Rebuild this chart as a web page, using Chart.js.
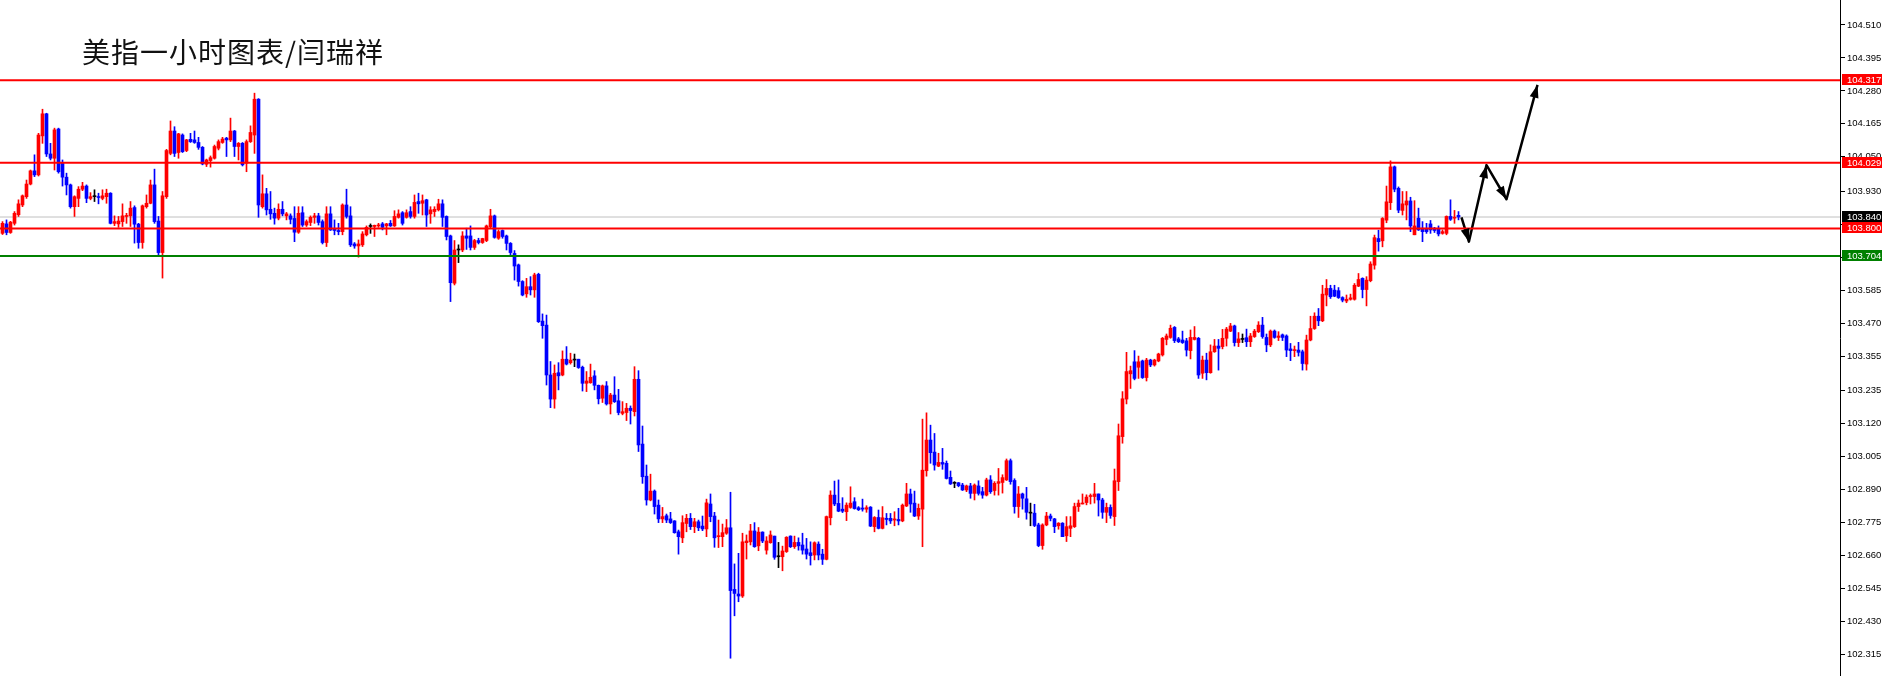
<!DOCTYPE html>
<html>
<head>
<meta charset="utf-8">
<title>美指一小时图表</title>
<script src="https://cdn.jsdelivr.net/npm/chart.js@4.4.1/dist/chart.umd.min.js"></script>
<style>
  html, body { margin: 0; padding: 0; background: #fff; }
  #wrap { position: relative; width: 1882px; height: 676px; }
  #title {
    position: absolute; left: 82px; top: 37px;
    font-family: "Noto Sans CJK SC", sans-serif; font-size: 28px; line-height: 28px;
    letter-spacing: 1px; color: #111; white-space: nowrap;
  }
</style>
</head>
<body>
<div id="wrap">
  <canvas id="chart"></canvas>
  <div id="title">美指一小时图表/闫瑞祥</div>
</div>
<script>
// hourly candles, oldest first
const opens = [
  103.783,103.816,103.786,103.818,103.848,103.882,103.911,103.955,104.001,103.987,
  104.123,104.200,104.060,104.045,104.147,104.028,103.979,103.952,103.876,103.905,
  103.937,103.948,103.905,103.911,103.911,103.905,103.911,103.923,103.818,103.816,
  103.824,103.842,103.844,103.873,103.815,103.751,103.876,103.888,103.952,103.826,
  103.716,103.911,104.062,104.140,104.065,104.126,104.072,104.111,104.109,104.100,
  104.083,104.024,104.037,104.045,104.080,104.100,104.115,104.109,104.140,104.086,
  104.097,104.028,104.103,104.126,104.251,103.876,103.921,103.867,103.853,103.836,
  103.867,103.844,103.844,103.835,103.787,103.855,103.812,103.821,103.839,103.844,
  103.824,103.751,103.851,103.797,103.793,103.789,103.882,103.844,103.746,103.739,
  103.743,103.778,103.807,103.807,103.809,103.816,103.809,103.818,103.809,103.839,
  103.855,103.839,103.859,103.842,103.894,103.888,103.900,103.851,103.859,103.865,
  103.886,103.842,103.774,103.609,103.725,103.725,103.774,103.774,103.734,103.758,
  103.751,103.758,103.806,103.844,103.766,103.793,103.774,103.748,103.713,103.673,
  103.615,103.572,103.597,103.586,103.640,103.477,103.463,103.289,103.205,103.297,
  103.289,103.344,103.332,103.341,103.344,103.316,103.260,103.262,103.286,103.253,
  103.208,103.251,103.188,103.219,103.199,103.155,103.158,103.173,103.161,103.274,
  103.048,102.936,102.853,102.884,102.835,102.787,102.798,102.787,102.780,102.742,
  102.721,102.771,102.789,102.760,102.777,102.762,102.752,102.839,102.797,102.725,
  102.725,102.737,102.756,102.541,102.525,102.518,102.704,102.707,102.745,102.693,
  102.741,102.678,102.704,102.727,102.655,102.655,102.673,102.727,102.690,102.705,
  102.696,102.682,102.669,102.661,102.699,102.664,102.646,102.791,102.870,102.841,
  102.821,102.812,102.827,102.847,102.826,102.825,102.821,102.828,102.760,102.792,
  102.754,102.789,102.789,102.783,102.785,102.780,102.832,102.874,102.842,102.797,
  102.821,102.955,103.062,103.020,102.971,102.984,102.981,102.932,102.911,102.913,
  102.905,102.888,102.902,102.876,102.902,102.882,102.870,102.923,102.886,102.911,
  102.914,102.923,102.990,102.921,102.830,102.874,102.857,102.807,102.807,102.766,
  102.694,102.766,102.797,102.787,102.763,102.772,102.728,102.754,102.760,102.830,
  102.839,102.844,102.865,102.865,102.874,102.853,102.810,102.827,102.795,102.917,
  103.074,103.205,103.293,103.335,103.316,103.338,103.280,103.341,103.324,103.338,
  103.359,103.413,103.420,103.455,103.415,103.411,103.408,103.374,103.413,103.417,
  103.295,103.341,103.297,103.370,103.390,103.388,103.417,103.442,103.460,103.402,
  103.413,103.419,103.405,103.423,103.440,103.463,103.420,103.394,103.442,103.420,
  103.429,103.425,103.380,103.374,103.376,103.370,103.327,103.411,103.451,103.494,
  103.478,103.568,103.591,103.585,103.583,103.559,103.547,103.553,103.553,103.599,
  103.626,103.587,103.618,103.672,103.765,103.757,103.829,103.890,104.015,103.940,
  103.863,103.882,103.896,103.778,103.836,103.801,103.797,103.816,103.801,103.797,
  103.783,103.783,103.842,103.836,103.846
];
const highs = [
  103.824,103.830,103.825,103.859,103.900,103.917,103.969,104.004,104.057,104.132,
  104.216,104.202,104.097,104.150,104.150,104.039,103.993,103.955,103.914,103.946,
  103.961,103.952,103.925,103.935,103.923,103.935,103.937,103.925,103.844,103.842,
  103.886,103.853,103.894,103.879,103.818,103.882,103.917,103.969,104.007,103.842,
  103.929,104.076,104.175,104.155,104.132,104.130,104.111,104.132,104.140,104.118,
  104.086,104.042,104.053,104.091,104.109,104.118,104.118,104.185,104.142,104.100,
  104.100,104.109,104.158,104.272,104.253,103.987,103.940,103.929,103.871,103.886,
  103.894,103.856,103.851,103.876,103.876,103.876,103.830,103.844,103.853,103.853,
  103.830,103.876,103.876,103.830,103.818,103.886,103.937,103.876,103.751,103.760,
  103.789,103.809,103.816,103.812,103.818,103.821,103.818,103.828,103.862,103.865,
  103.859,103.865,103.876,103.917,103.923,103.917,103.902,103.876,103.876,103.902,
  103.900,103.844,103.777,103.758,103.743,103.789,103.801,103.809,103.762,103.766,
  103.766,103.812,103.867,103.847,103.795,103.795,103.777,103.751,103.723,103.676,
  103.618,103.626,103.632,103.644,103.644,103.502,103.498,103.336,103.324,103.332,
  103.373,103.388,103.365,103.362,103.344,103.320,103.301,103.327,103.304,103.254,
  103.254,103.266,103.225,103.283,103.239,103.196,103.190,103.181,103.318,103.304,
  103.111,102.975,102.943,102.888,102.853,102.827,102.804,102.810,102.781,102.748,
  102.798,102.803,102.806,102.789,102.783,102.797,102.856,102.874,102.810,102.783,
  102.769,102.785,102.880,102.630,102.667,102.737,102.731,102.768,102.774,102.757,
  102.742,102.725,102.745,102.727,102.705,102.692,102.725,102.728,102.727,102.721,
  102.737,102.719,102.707,102.707,102.707,102.681,102.797,102.885,102.919,102.923,
  102.861,102.843,102.899,102.861,102.830,102.856,102.833,102.830,102.795,102.818,
  102.830,102.806,102.806,102.812,102.824,102.839,102.911,102.891,102.884,102.839,
  103.135,103.157,103.114,103.085,103.016,103.033,102.989,102.954,102.917,102.914,
  102.911,102.905,102.911,102.909,102.920,102.897,102.929,102.938,102.917,102.963,
  102.941,102.996,102.996,102.927,102.900,102.877,102.897,102.842,102.838,102.772,
  102.770,102.810,102.804,102.789,102.774,102.774,102.795,102.795,102.842,102.853,
  102.874,102.871,102.874,102.911,102.874,102.859,102.842,102.836,102.961,103.118,
  103.231,103.368,103.320,103.374,103.355,103.341,103.347,103.344,103.344,103.365,
  103.420,103.432,103.463,103.458,103.420,103.442,103.417,103.446,103.458,103.420,
  103.355,103.365,103.394,103.413,103.413,103.448,103.455,103.469,103.463,103.437,
  103.432,103.449,103.434,103.448,103.475,103.490,103.432,103.446,103.446,103.440,
  103.432,103.429,103.399,103.390,103.403,103.376,103.428,103.494,103.506,103.521,
  103.602,103.622,103.602,103.602,103.594,103.562,103.568,103.571,103.608,103.643,
  103.628,103.632,103.684,103.777,103.794,103.838,103.948,104.036,104.018,103.945,
  103.929,103.929,103.909,103.897,103.871,103.824,103.818,103.828,103.804,103.809,
  103.795,103.844,103.900,103.863,103.859
];
const lows = [
  103.779,103.778,103.783,103.812,103.842,103.876,103.905,103.952,103.981,103.983,
  104.097,104.051,104.039,104.004,103.993,103.948,103.917,103.871,103.842,103.876,
  103.932,103.890,103.900,103.894,103.886,103.900,103.888,103.816,103.810,103.804,
  103.807,103.818,103.807,103.749,103.731,103.731,103.871,103.886,103.818,103.708,
  103.627,103.905,104.057,104.051,104.045,104.065,104.068,104.100,104.097,104.076,
  104.022,104.016,104.014,104.042,104.074,104.097,104.051,104.103,104.051,104.039,
  104.018,103.998,104.100,104.062,103.839,103.871,103.847,103.832,103.815,103.830,
  103.844,103.830,103.816,103.754,103.783,103.807,103.807,103.810,103.818,103.812,
  103.746,103.737,103.793,103.778,103.778,103.778,103.836,103.737,103.731,103.700,
  103.737,103.774,103.783,103.772,103.804,103.795,103.778,103.807,103.807,103.836,
  103.812,103.836,103.836,103.836,103.853,103.847,103.807,103.818,103.842,103.861,
  103.807,103.760,103.545,103.603,103.681,103.719,103.727,103.725,103.727,103.746,
  103.748,103.754,103.801,103.766,103.762,103.766,103.725,103.708,103.620,103.599,
  103.565,103.560,103.568,103.560,103.472,103.417,103.254,103.175,103.173,103.237,
  103.286,103.324,103.327,103.318,103.312,103.233,103.231,103.260,103.237,103.188,
  103.193,103.184,103.153,103.193,103.150,103.150,103.130,103.118,103.146,103.022,
  102.911,102.835,102.850,102.804,102.774,102.774,102.774,102.771,102.737,102.664,
  102.704,102.742,102.750,102.739,102.746,102.746,102.725,102.777,102.688,102.687,
  102.690,102.733,102.301,102.449,102.498,102.513,102.647,102.696,102.688,102.676,
  102.704,102.664,102.702,102.646,102.617,102.606,102.670,102.687,102.684,102.678,
  102.664,102.647,102.626,102.644,102.644,102.628,102.644,102.766,102.833,102.812,
  102.809,102.781,102.824,102.821,102.816,102.814,102.810,102.760,102.742,102.752,
  102.752,102.766,102.771,102.763,102.766,102.777,102.830,102.810,102.795,102.785,
  102.690,102.936,102.981,102.957,102.969,102.960,102.926,102.907,102.896,102.899,
  102.886,102.882,102.859,102.853,102.870,102.859,102.867,102.876,102.870,102.870,
  102.877,102.921,102.908,102.807,102.792,102.821,102.786,102.763,102.760,102.690,
  102.681,102.763,102.780,102.739,102.751,102.725,102.708,102.725,102.757,102.813,
  102.839,102.836,102.839,102.842,102.797,102.789,102.774,102.789,102.764,102.886,
  103.051,103.188,103.242,103.272,103.277,103.277,103.268,103.318,103.320,103.335,
  103.355,103.394,103.417,103.402,103.402,103.399,103.355,103.345,103.411,103.277,
  103.277,103.272,103.295,103.368,103.306,103.380,103.390,103.440,103.390,103.388,
  103.402,103.388,103.388,103.420,103.437,103.417,103.370,103.388,103.417,103.409,
  103.409,103.353,103.339,103.353,103.355,103.306,103.306,103.408,103.448,103.461,
  103.475,103.530,103.556,103.562,103.556,103.544,103.541,103.550,103.550,103.597,
  103.558,103.530,103.614,103.658,103.721,103.736,103.820,103.866,103.928,103.855,
  103.847,103.830,103.789,103.778,103.793,103.754,103.783,103.783,103.786,103.774,
  103.780,103.778,103.828,103.818,103.830
];
const closes = [
  103.818,103.786,103.822,103.853,103.886,103.914,103.955,104.001,103.987,104.126,
  104.200,104.060,104.045,104.144,103.998,103.979,103.952,103.876,103.911,103.937,
  103.948,103.905,103.911,103.911,103.908,103.914,103.923,103.818,103.824,103.826,
  103.844,103.844,103.871,103.815,103.751,103.879,103.888,103.952,103.824,103.716,
  103.914,104.072,104.140,104.062,104.130,104.068,104.109,104.103,104.100,104.083,
  104.025,104.039,104.047,104.086,104.103,104.112,104.109,104.140,104.086,104.097,
  104.022,104.103,104.135,104.251,103.882,103.921,103.865,103.851,103.836,103.867,
  103.851,103.851,103.832,103.787,103.853,103.812,103.824,103.839,103.844,103.821,
  103.751,103.851,103.795,103.793,103.789,103.882,103.842,103.743,103.739,103.746,
  103.781,103.804,103.807,103.811,103.812,103.804,103.816,103.809,103.842,103.851,
  103.818,103.855,103.842,103.891,103.886,103.897,103.847,103.865,103.867,103.886,
  103.839,103.772,103.611,103.725,103.725,103.774,103.766,103.734,103.758,103.751,
  103.765,103.809,103.844,103.769,103.789,103.772,103.748,103.716,103.669,103.615,
  103.568,103.597,103.586,103.638,103.475,103.461,103.289,103.205,103.295,103.286,
  103.344,103.327,103.341,103.341,103.315,103.260,103.268,103.281,103.253,103.206,
  103.251,103.188,103.219,103.196,103.158,103.161,103.173,103.165,103.274,103.045,
  102.934,102.853,102.884,102.830,102.787,102.795,102.783,102.774,102.739,102.725,
  102.774,102.789,102.760,102.777,102.756,102.752,102.843,102.795,102.721,102.728,
  102.739,102.756,102.537,102.527,102.518,102.707,102.710,102.745,102.690,102.741,
  102.710,102.710,102.731,102.653,102.655,102.675,102.723,102.690,102.705,102.693,
  102.678,102.664,102.659,102.704,102.661,102.646,102.795,102.870,102.839,102.814,
  102.814,102.835,102.842,102.823,102.819,102.821,102.826,102.762,102.792,102.754,
  102.791,102.785,102.780,102.787,102.780,102.835,102.874,102.839,102.797,102.824,
  102.957,103.062,103.018,102.975,102.984,102.978,102.928,102.909,102.911,102.903,
  102.888,102.902,102.876,102.905,102.876,102.870,102.923,102.882,102.911,102.917,
  102.931,102.990,102.917,102.830,102.874,102.859,102.810,102.807,102.764,102.694,
  102.766,102.797,102.789,102.760,102.772,102.725,102.760,102.763,102.830,102.842,
  102.842,102.863,102.867,102.874,102.853,102.810,102.827,102.799,102.920,103.077,
  103.206,103.301,103.304,103.277,103.335,103.280,103.341,103.324,103.341,103.362,
  103.417,103.425,103.452,103.409,103.405,103.402,103.376,103.420,103.420,103.289,
  103.341,103.297,103.370,103.390,103.382,103.417,103.449,103.460,103.402,103.415,
  103.413,103.405,103.425,103.442,103.463,103.423,103.394,103.442,103.420,103.425,
  103.420,103.376,103.374,103.376,103.368,103.329,103.411,103.451,103.494,103.478,
  103.571,103.591,103.562,103.564,103.559,103.550,103.553,103.558,103.602,103.622,
  103.587,103.620,103.676,103.768,103.754,103.835,103.893,104.015,103.937,103.864,
  103.886,103.896,103.809,103.809,103.795,103.789,103.789,103.795,103.793,103.781,
  103.789,103.842,103.832,103.839,103.840
];

// price axis labels
const yTicks = [104.510,104.395,104.280,104.165,104.050,103.930,103.815,103.700,103.585,103.470,
                103.355,103.235,103.120,103.005,102.890,102.775,102.660,102.545,102.430,102.315];

// horizontal levels
const redLevels = [104.317, 104.029, 103.800];
const greenLevels = [103.704];
const lastPrice = 103.840;

// hand drawn forecast arrow (bar position, price)
const arrowX = [364.75, 366.6, 371, 376, 383.75];
const arrowY = [103.839, 103.754, 104.021, 103.902, 104.301];

// visible window
const xMin = -0.625, xMax = 459.375;
const yMin = 102.239, yMax = 104.597;

const UP = '#ff0000', DOWN = '#0000ff', FLAT = '#000000';
const colorOf = i => closes[i] > opens[i] ? UP : (closes[i] < opens[i] ? DOWN : FLAT);
const candleColors = closes.map((c, i) => colorOf(i));

function levelLine(v, color, width, order) {
  return {
    type: 'line',
    data: [{x: xMin, y: v}, {x: xMax, y: v}],
    borderColor: color, borderWidth: width,
    pointRadius: 0, order: order
  };
}

const datasets = [
  ...redLevels.map(v => levelLine(v, '#ff0000', 2, 0)),
  ...greenLevels.map(v => levelLine(v, '#008000', 2, 0)),
  levelLine(lastPrice, '#c0c0c0', 1, 4),
  {
    type: 'bar',
    data: closes.map((c, i) => ({x: i, y: [opens[i], c]})),
    backgroundColor: candleColors,
    barThickness: 3, minBarLength: 1, stack: 'c', order: 2
  },
  {
    type: 'bar',
    data: closes.map((c, i) => ({x: i, y: [lows[i], highs[i]]})),
    backgroundColor: candleColors,
    barThickness: 1, stack: 'c', order: 3
  },
  {
    type: 'line',
    data: arrowX.map((x, k) => ({x: x, y: arrowY[k]})),
    borderColor: '#000', borderWidth: 2.5, pointRadius: 0,
    borderJoinStyle: 'round', order: 0
  }
];
const arrowIndex = datasets.length - 1;

const arrowHeads = {
  id: 'arrowHeads',
  afterDatasetsDraw(chart) {
    const pts = chart.getDatasetMeta(arrowIndex).data;
    const ctx = chart.ctx;
    ctx.save();
    ctx.fillStyle = '#000';
    for (let k = 1; k < pts.length; k++) {
      const a = pts[k - 1], b = pts[k];
      const ang = Math.atan2(b.y - a.y, b.x - a.x);
      const len = 13, half = 4.5;
      const cx = b.x - len * Math.cos(ang), cy = b.y - len * Math.sin(ang);
      ctx.beginPath();
      ctx.moveTo(b.x, b.y);
      ctx.lineTo(cx + half * Math.sin(ang), cy - half * Math.cos(ang));
      ctx.lineTo(cx - half * Math.sin(ang), cy + half * Math.cos(ang));
      ctx.closePath();
      ctx.fill();
    }
    ctx.restore();
  }
};

// coloured price tags on the right axis
const priceTags = {
  id: 'priceTags',
  afterDraw(chart) {
    const {ctx, chartArea, scales} = chart;
    const tags = [
      ...redLevels.map(v => [v, '#ff0000']),
      ...greenLevels.map(v => [v, '#008000']),
      [lastPrice, '#000000']
    ];
    ctx.save();
    ctx.font = '9.5px "Liberation Sans"';
    ctx.textBaseline = 'middle';
    tags.forEach(([v, color]) => {
      const py = Math.round(scales.y.getPixelForValue(v));
      ctx.fillStyle = color;
      ctx.fillRect(chartArea.right + 2, py - 6, chart.width - chartArea.right - 2, 11);
      ctx.fillStyle = '#fff';
      ctx.fillText(v.toFixed(3), chartArea.right + 7, py);
    });
    ctx.restore();
  }
};

new Chart(document.getElementById('chart'), {
  type: 'bar',
  data: { datasets },
  plugins: [arrowHeads, priceTags],
  options: {
    responsive: true,
    maintainAspectRatio: false,
    devicePixelRatio: 1,
    animation: false,
    layout: { padding: 0 },
    plugins: { legend: { display: false }, tooltip: { enabled: false } },
    scales: {
      x: { type: 'linear', display: false, min: xMin, max: xMax, offset: false },
      y: {
        position: 'right', min: yMin, max: yMax, stacked: false,
        afterBuildTicks: s => { s.ticks = yTicks.map(v => ({value: v})); },
        afterFit: s => { s.width = 42; s.paddingTop = 0; s.paddingBottom = 0; },
        ticks: {
          autoSkip: false, padding: 2, color: '#000',
          font: { family: 'Liberation Sans', size: 9.5 },
          callback: v => v.toFixed(3)
        },
        grid: { drawOnChartArea: false, drawTicks: true, tickLength: 5, color: '#000' },
        border: { color: '#000', width: 1 }
      }
    }
  }
});
</script>
</body>
</html>
